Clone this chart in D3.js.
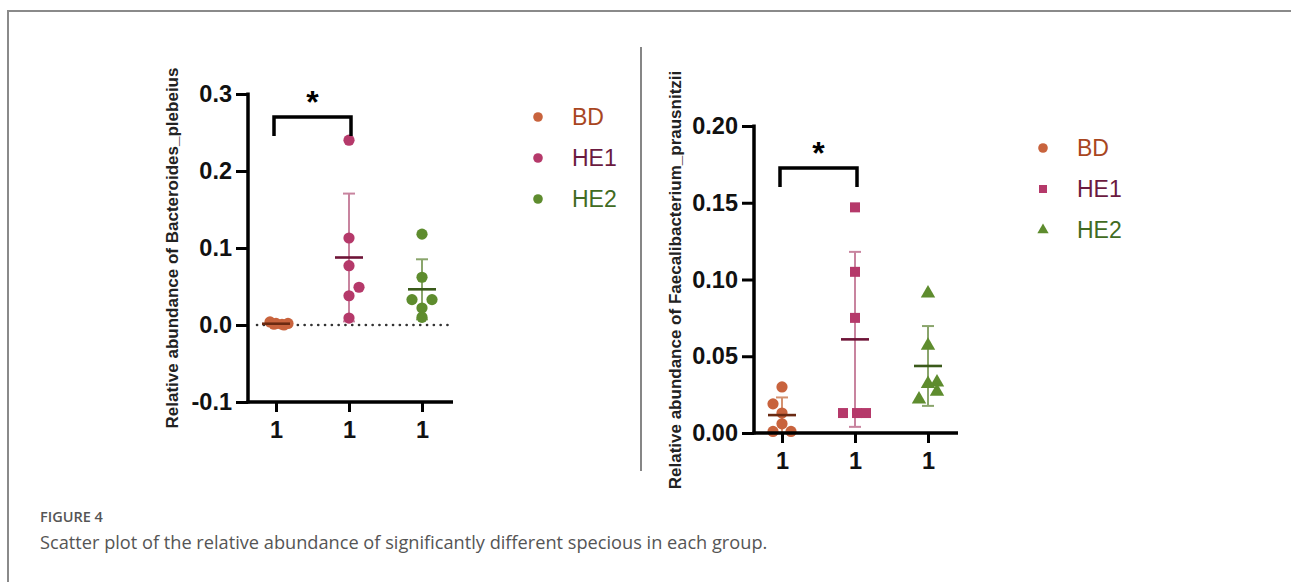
<!DOCTYPE html>
<html>
<head>
<meta charset="utf-8">
<script src="https://cdn.jsdelivr.net/npm/d3@7"></script>
<style>
  body { margin: 0; background: #fff; }
  svg { display: block; }
</style>
</head>
<body>
<div id="chart"></div>
<script>
// groups and tick labels
const groups = ["BD", "HE1", "HE2"];
const xTickLabels = ["1", "1", "1"];

// Bacteroides_plebeius (left panel)
const plebeiusBD = [0.004, 0.002, 0.001, 0.002, 0.001, 0.000];
const plebeiusHE1 = [0.240, 0.113, 0.077, 0.049, 0.038, 0.009];
const plebeiusHE2 = [0.118, 0.062, 0.033, 0.033, 0.022, 0.010];
const plebeiusSD = [0.002, 0.083, 0.039];
const plebeiusTicks = [-0.1, 0.0, 0.1, 0.2, 0.3];

// Faecalibacterium_prausnitzii (right panel)
const prausBD = [0.030, 0.019, 0.013, 0.006, 0.001, 0.001];
const prausHE1 = [0.147, 0.105, 0.075, 0.013, 0.013, 0.013];
const prausHE2 = [0.091, 0.057, 0.033, 0.032, 0.027, 0.022];
const prausSD = [0.0115, 0.057, 0.026];
const prausTicks = [0.00, 0.05, 0.10, 0.15, 0.20];

// colours
const pointColor = { BD: "#c8633d", HE1: "#b5396a", HE2: "#5e8c2e" };
const barColor = { BD: "#d4916f", HE1: "#c8849f", HE2: "#8aa56c" };
const meanColor = { BD: "#6a2a12", HE1: "#6e1437", HE2: "#3a5a1a" };
const legendText = { BD: "#a8461f", HE1: "#6b1a40", HE2: "#416b22" };

const width = 1291, height = 582;
const svg = d3.select("#chart").append("svg")
    .attr("width", width)
    .attr("height", height);

// frame of the figure
svg.append("line").attr("x1", 7).attr("x2", width).attr("y1", 11).attr("y2", 11)
    .attr("stroke", "#8a8a8a").attr("stroke-width", 2);
svg.append("line").attr("x1", 8).attr("x2", 8).attr("y1", 10).attr("y2", height)
    .attr("stroke", "#8a8a8a").attr("stroke-width", 2);

// divider between the two panels
svg.append("line").attr("x1", 641).attr("x2", 641).attr("y1", 47).attr("y2", 471)
    .attr("stroke", "#444").attr("stroke-width", 1.3);

const mean = arr => d3.mean(arr);
const boldFont = "'Liberation Sans', Arial, sans-serif";

function drawPanel(cfg) {
    const g = svg.append("g");
    const x = d3.scalePoint().domain(groups).range(cfg.xRange);
    const y = d3.scaleLinear().domain(cfg.yDomain).range(cfg.yRange);

    // zero reference line (dotted)
    if (cfg.zeroLine) {
        g.append("line")
            .attr("x1", cfg.axisX + 9).attr("x2", cfg.xEnd)
            .attr("y1", y(0)).attr("y2", y(0))
            .attr("stroke", "#333").attr("stroke-width", 2.6)
            .attr("stroke-linecap", "round")
            .attr("stroke-dasharray", "0.1 6.7");
    }

    // error bars
    groups.forEach((grp, i) => {
        const m = mean(cfg.values[i]);
        const sd = cfg.sd[i];
        const cx = x(grp);
        const eg = g.append("g").attr("stroke", barColor[grp]).attr("stroke-width", 2);
        eg.append("line").attr("x1", cx).attr("x2", cx).attr("y1", y(m - sd)).attr("y2", y(m + sd));
        eg.append("line").attr("x1", cx - 6).attr("x2", cx + 6).attr("y1", y(m + sd)).attr("y2", y(m + sd));
        eg.append("line").attr("x1", cx - 6).attr("x2", cx + 6).attr("y1", y(m - sd)).attr("y2", y(m - sd));
    });

    // points
    groups.forEach((grp, i) => {
        const cx = x(grp);
        const jit = cfg.jitter[i];
        cfg.values[i].forEach((v, j) => {
            const px = cx + jit[j], py = y(v);
            if (cfg.shapes[i] === "circle") {
                g.append("circle").attr("cx", px).attr("cy", py).attr("r", 5.6)
                    .attr("fill", pointColor[grp]);
            } else {
                const sym = cfg.shapes[i] === "square" ? d3.symbolSquare : d3.symbolTriangle;
                const size = cfg.shapes[i] === "square" ? 100 : 90;
                g.append("path").attr("d", d3.symbol(sym, size)())
                    .attr("transform", `translate(${px},${py})`)
                    .attr("fill", pointColor[grp]);
            }
        });
    });

    // mean lines
    groups.forEach((grp, i) => {
        const m = mean(cfg.values[i]);
        const cx = x(grp);
        g.append("line").attr("x1", cx - 14).attr("x2", cx + 14)
            .attr("y1", y(m)).attr("y2", y(m))
            .attr("stroke", meanColor[grp]).attr("stroke-width", 2.6);
    });

    // y axis
    const yAxis = g.append("g")
        .attr("transform", `translate(${cfg.axisX},0)`)
        .call(d3.axisLeft(y).tickValues(cfg.ticks).tickSize(12).tickSizeOuter(0)
            .tickFormat(d => d3.format(cfg.fmt)(d).replace("−", "-")).tickPadding(4));
    // x axis
    const xAxis = g.append("g")
        .attr("transform", `translate(0,${cfg.yRange[0]})`)
        .call(d3.axisBottom(x).tickSize(10).tickSizeOuter(0)
            .tickFormat((d, i) => xTickLabels[i]).tickPadding(9));
    xAxis.select(".domain").remove();
    yAxis.select(".domain").remove();

    g.append("line").attr("x1", cfg.axisX).attr("x2", cfg.axisX)
        .attr("y1", cfg.yRange[1] - 1.5).attr("y2", cfg.yRange[0] + 1.5)
        .attr("stroke", "#000").attr("stroke-width", 3.5);
    g.append("line").attr("x1", cfg.axisX - 1.5).attr("x2", cfg.xEnd)
        .attr("y1", cfg.yRange[0]).attr("y2", cfg.yRange[0])
        .attr("stroke", "#000").attr("stroke-width", 3.5);

    [yAxis, xAxis].forEach(ax => {
        ax.selectAll(".tick line").attr("stroke", "#000").attr("stroke-width", 3);
        ax.selectAll(".tick text")
            .attr("fill", "#111")
            .style("font-family", boldFont)
            .style("font-weight", "bold")
            .style("font-size", "23.5px");
    });

    // y label
    g.append("text")
        .attr("transform", `translate(${cfg.labelX},${cfg.labelY}) rotate(-90)`)
        .attr("text-anchor", "middle")
        .attr("dy", "0.35em")
        .attr("fill", "#222")
        .style("font-family", boldFont)
        .style("font-weight", "bold")
        .style("font-size", "17px")
        .text(cfg.label);

    // significance bracket
    const x0 = x(groups[0]) - 2, x1 = x(groups[1]) + 2;
    g.append("path")
        .attr("d", `M${x0},${cfg.bracketY + 19}V${cfg.bracketY}H${x1}V${cfg.bracketY + 19}`)
        .attr("fill", "none").attr("stroke", "#000").attr("stroke-width", 3.5);
    g.append("text")
        .attr("x", (x0 + x1) / 2).attr("y", cfg.bracketY - 4)
        .attr("text-anchor", "middle")
        .style("font-family", boldFont)
        .style("font-weight", "bold")
        .style("font-size", "32px")
        .text("*");

    // legend
    groups.forEach((grp, i) => {
        const ly = cfg.legendY + i * cfg.legendStep;
        if (cfg.shapes[i] === "circle") {
            g.append("circle").attr("cx", cfg.legendX).attr("cy", ly).attr("r", 4.8)
                .attr("fill", pointColor[grp]);
        } else {
            const sym = cfg.shapes[i] === "square" ? d3.symbolSquare : d3.symbolTriangle;
            g.append("path").attr("d", d3.symbol(sym, cfg.shapes[i] === "square" ? 64 : 55)())
                .attr("transform", `translate(${cfg.legendX},${ly})`)
                .attr("fill", pointColor[grp]);
        }
        g.append("text")
            .attr("x", cfg.legendX + 34).attr("y", ly)
            .attr("dy", "0.36em")
            .attr("fill", legendText[grp])
            .style("font-family", boldFont)
            .style("font-size", "23px")
            .text(grp);
    });
}

drawPanel({
    values: [plebeiusBD, plebeiusHE1, plebeiusHE2],
    sd: plebeiusSD,
    ticks: plebeiusTicks,
    fmt: ".1f",
    xRange: [276, 422],
    yDomain: [-0.1, 0.3],
    yRange: [402, 94],
    axisX: 248,
    xEnd: 453,
    zeroLine: true,
    jitter: [[-6, 0, 6, 12, -2, 8], [0, 0, 0, 10, 0, 0], [0, 0, -10, 10, 0, 0]],
    shapes: ["circle", "circle", "circle"],
    label: "Relative abundance of Bacteroides_plebeius",
    labelX: 172, labelY: 248,
    bracketY: 117,
    legendX: 538, legendY: 117, legendStep: 41
});

drawPanel({
    values: [prausBD, prausHE1, prausHE2],
    sd: prausSD,
    ticks: prausTicks,
    fmt: ".2f",
    xRange: [782, 928],
    yDomain: [0, 0.2],
    yRange: [433, 126],
    axisX: 754,
    xEnd: 958,
    zeroLine: false,
    jitter: [[0, -9, 0, 0, -9, 9], [0, 0, 0, -12, 2, 11], [0, 0, 9, 0, 9, -9]],
    shapes: ["circle", "square", "triangle"],
    label: "Relative abundance of Faecalibacterium_prausnitzii",
    labelX: 675, labelY: 280,
    bracketY: 168,
    legendX: 1043, legendY: 148, legendStep: 41
});

// caption
svg.append("text")
    .attr("x", 40).attr("y", 522)
    .attr("fill", "#555")
    .style("font-family", "'Open Sans', sans-serif")
    .style("font-size", "14.5px")
    .style("font-weight", "600")
    .text("FIGURE 4");
svg.append("text")
    .attr("x", 40).attr("y", 549)
    .attr("fill", "#555")
    .style("font-family", "'Open Sans', sans-serif")
    .style("font-size", "18.2px")
    .text("Scatter plot of the relative abundance of significantly different specious in each group.");
</script>
</body>
</html>
